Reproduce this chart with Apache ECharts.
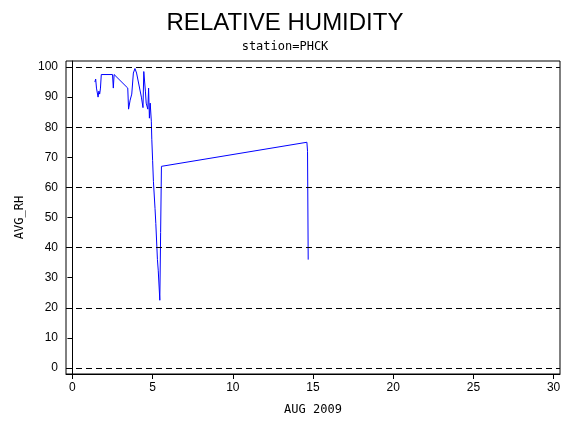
<!DOCTYPE html><html><head><meta charset="utf-8"><script src="https://cdn.jsdelivr.net/npm/echarts@6/dist/echarts.min.js"></script></head><body style="margin:0"><div id="c" style="width:570px;height:430px"></div><script>
const xs=[1.40,1.45,1.5,1.6,1.65,1.7,1.75,1.8,2.5,2.55,2.6,3.45,3.5,3.6,3.7,3.8,3.9,4.0,4.3,4.4,4.45,4.55,4.6,4.7,4.75,4.8,4.85,4.92,4.95,5.0,5.05,5.15,5.2,5.3,5.35,5.45,5.5,5.55,14.62,14.66,14.7];
const rh=[95,96,93,90,92,91,93,97.5,97.5,93,97.5,93,86,89,91,98,99.5,98,90,86.5,98.5,92,88,86,93,83,88,82,76,69,62,53,48,36,32.5,22.5,45,67,75,72,36];
const yTicks=[0,10,20,30,40,50,60,70,80,90,100];
const xTicks=[0,5,10,15,20,25,30];
const grids=[0,20,40,60,80,100];
const ch=echarts.init(document.getElementById('c'));
const f='Liberation Sans';
ch.setOption({animation:false,
title:[{text:'RELATIVE HUMIDITY',left:'center',top:6,textStyle:{fontFamily:f,fontSize:24,fontWeight:'normal',color:'#000'}},
{text:'station=PHCK',left:'center',top:36,textStyle:{fontFamily:'DejaVu Sans Mono',fontSize:12,fontWeight:'normal',color:'#000'}}],
grid:{left:66,right:10,top:61,bottom:56,show:true,borderColor:'#000',borderWidth:1},
xAxis:{type:'value',min:-0.4,max:30.4,name:'AUG 2009',nameLocation:'middle',nameGap:30,nameTextStyle:{fontFamily:'DejaVu Sans Mono',fontSize:12,color:'#000'},
axisLine:{onZero:false,lineStyle:{color:'#000'}},axisTick:{customValues:xTicks,length:5,lineStyle:{color:'#000'}},axisLabel:{customValues:xTicks,fontFamily:f,fontSize:12,color:'#000'},splitLine:{show:false}},
yAxis:{type:'value',min:-2,max:102,name:'AVG_RH',nameLocation:'middle',nameGap:40,nameTextStyle:{fontFamily:'DejaVu Sans Mono',fontSize:12,color:'#000'},
axisLine:{show:true,lineStyle:{color:'#000'}},axisTick:{show:true,customValues:yTicks,length:5,lineStyle:{color:'#000'}},axisLabel:{customValues:yTicks,fontFamily:f,fontSize:12,color:'#000'},splitLine:{show:false}},
series:[{type:'line',data:xs.map((x,i)=>[x,rh[i]]),showSymbol:false,lineStyle:{color:'#0000ff',width:1},
markLine:{silent:true,symbol:'none',label:{show:false},lineStyle:{color:'#000',type:[6,4],width:1},data:grids.map(v=>({yAxis:v}))}}]});
</script></body></html>
